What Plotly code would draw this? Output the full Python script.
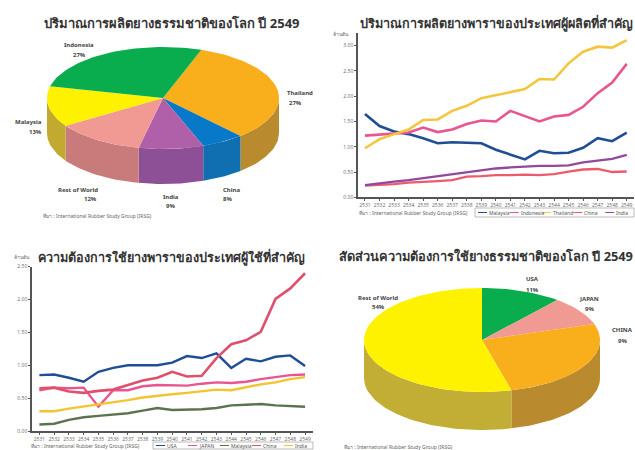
import math
import plotly.graph_objects as go

years = list(range(2531, 2550))
year_labels = [str(y) for y in years]

# Production, million tons
prod_malaysia = [1.65,1.41,1.30,1.25,1.17,1.07,1.09,1.08,1.07,.94,.84,.75,.92,.87,.88,.98,1.17,1.11,1.28]
prod_indonesia = [1.22,1.24,1.25,1.28,1.38,1.29,1.34,1.45,1.52,1.50,1.71,1.60,1.50,1.60,1.63,1.79,2.06,2.27,2.64]
prod_thailand = [.97,1.15,1.25,1.34,1.53,1.54,1.71,1.81,1.96,2.02,2.07,2.14,2.34,2.33,2.65,2.88,2.98,2.96,3.11]
prod_china = [.23,.24,.26,.29,.30,.32,.34,.41,.42,.44,.44,.45,.44,.46,.51,.55,.56,.50,.51]
prod_india = [.24,.28,.31,.34,.38,.42,.46,.49,.54,.57,.59,.61,.62,.62,.63,.69,.73,.76,.84]

# Consumption, million tons
use_usa = [.85,.86,.81,.75,.90,.96,1.00,1.00,1.00,1.04,1.14,1.11,1.18,.96,1.10,1.06,1.13,1.15,.99]
use_japan = [.62,.66,.65,.66,.37,.62,.62,.68,.70,.70,.69,.72,.74,.73,.75,.79,.82,.85,.86]
use_malaysia = [.10,.11,.17,.21,.23,.25,.27,.31,.35,.32,.32,.33,.35,.39,.40,.41,.39,.38,.37]
use_china = [.65,.66,.60,.58,.61,.63,.70,.77,.81,.90,.83,.84,1.11,1.32,1.38,1.51,2.01,2.17,2.40]
use_india = [.30,.30,.34,.37,.40,.43,.47,.51,.54,.56,.58,.61,.63,.62,.67,.71,.74,.79,.82]

# Pie 1 (clockwise, from the top of the ellipse)
p1_names = ["Thailand", "China", "India", "Rest of World", "Malaysia", "Indonesia"]
p1_sizes = [33, 6, 9, 12.5, 12.8, 26.7]
p1_labels = ["27%", "8%", "9%", "12%", "13%", "27%"]
p1_top = ["#f9ae1c", "#0878c8", "#b060a8", "#f19a94", "#fff200", "#0aad4e"]
p1_wall = ["#b98a2e", "#0f6fb0", "#8d4f96", "#c97b7b", "#c2a92f", "#0a8a40"]

# Pie 2
p2_names = ["USA", "JAPAN", "CHINA", "Rest of World"]
p2_sizes = [11, 9, 26, 54]
p2_labels = ["11%", "9%", "9%", "54%"]
p2_top = ["#0aad4e", "#f19a94", "#f9ae1c", "#fff200"]
p2_wall = ["#0a8a40", "#c97b7b", "#b98a2e", "#c2ae35"]

W, H = 635, 450
fig = go.Figure()


def arc(cx, cy, rx, ry, a, b, dy=0.0):
    n = max(2, int(abs(b - a) / 2) + 2)
    xs, ys = [], []
    for i in range(n):
        t = math.radians(a + (b - a) * i / (n - 1))
        xs.append(cx + rx * math.sin(t))
        ys.append(cy - ry * math.cos(t) + dy)
    return xs, ys


def pie(sizes, tops, walls, start, cx, cy, rx, ry, depth):
    total = sum(sizes)
    a = start
    spans = []
    for s in sizes:
        b = a + s / total * 360
        spans.append((a, b))
        a = b
    for (a, b), col in zip(spans, walls):
        for k in (0, 360):
            lo, hi = max(a, 90 + k), min(b, 270 + k)
            if hi > lo:
                x1, y1 = arc(cx, cy, rx, ry, lo, hi)
                x2, y2 = arc(cx, cy, rx, ry, hi, lo, depth)
                fig.add_trace(go.Scatter(x=x1 + x2, y=y1 + y2, fill="toself", fillcolor=col, mode="lines",
                                         line=dict(width=0), showlegend=False, hoverinfo="skip", xaxis="x", yaxis="y"))
    for (a, b), col in zip(spans, tops):
        x1, y1 = arc(cx, cy, rx, ry, a, b)
        fig.add_trace(go.Scatter(x=[cx] + x1 + [cx], y=[cy] + y1 + [cy], fill="toself", fillcolor=col, mode="lines",
                                 line=dict(width=0), showlegend=False, hoverinfo="skip", xaxis="x", yaxis="y"))


pie(p1_sizes, p1_top, p1_wall, 19.3, 163, 98, 116, 51, 35)
pie(p2_sizes, p2_top, p2_wall, 0, 482, 340, 118, 52, 38)

top_series = [
    ("Malaysia", prod_malaysia, "#1f4e96", 2.6),
    ("Indonesia", prod_indonesia, "#e8558f", 2.6),
    ("Thailand", prod_thailand, "#f4c63d", 2.6),
    ("China", prod_china, "#ec5a6e", 2.3),
    ("India", prod_india, "#93479f", 2.3),
]
bot_series = [
    ("USA", use_usa, "#1f4e96", 2.4),
    ("JAPAN", use_japan, "#e8558f", 2.4),
    ("Malaysia", use_malaysia, "#5c7350", 2.4),
    ("China", use_china, "#e0506c", 2.6),
    ("India", use_india, "#f2c530", 2.4),
]
for name, vals, col, w in top_series:
    fig.add_trace(go.Scatter(x=years, y=vals, name=name, mode="lines", line=dict(color=col, width=w),
                             xaxis="x2", yaxis="y2", showlegend=False))
for name, vals, col, w in bot_series:
    fig.add_trace(go.Scatter(x=years, y=vals, name=name, mode="lines", line=dict(color=col, width=w),
                             xaxis="x3", yaxis="y3", showlegend=False))


def T(text, x, y, size, color="#444", bold=False, anchor="center"):
    fig.add_annotation(text=f"<b>{text}</b>" if bold else text, x=x / W, y=1 - y / H, xref="paper", yref="paper",
                       showarrow=False, font=dict(size=size, color=color, family="Noto Sans, DejaVu Sans, sans-serif"),
                       xanchor=anchor, yanchor="middle", borderpad=0)


def legend_box(series, x0, x1, y0, y1):
    fig.add_shape(type="rect", xref="paper", yref="paper", x0=x0 / W, x1=x1 / W, y0=1 - y0 / H, y1=1 - y1 / H,
                  line=dict(color="#aaaaaa", width=0.8))
    step = (x1 - x0) / len(series)
    ym = (y0 + y1) / 2
    for i, (name, _, col, _w) in enumerate(series):
        xs = x0 + i * step + 3
        fig.add_shape(type="line", xref="paper", yref="paper", x0=xs / W, x1=(xs + 9) / W, y0=1 - ym / H, y1=1 - ym / H,
                      line=dict(color=col, width=1))
        T(name, xs + 10, ym, 5, "#555", False, "left")


TITLE = "#333333"
T("ปริมาณการผลิตยางธรรมชาติของโลก ปี 2549", 172, 23, 13, TITLE, True)
T("ปริมาณการผลิตยางพาราของประเทศผู้ผลิตที่สำคัญ", 496, 23, 12.6, TITLE, True)
T("ความต้องการใช้ยางพาราของประเทศผู้ใช้ที่สำคัญ", 171, 257, 12.6, TITLE, True)
T("สัดส่วนความต้องการใช้ยางธรรมชาติของโลก ปี 2549", 486, 256, 12.8, TITLE, True)

SRC = "ที่มา : International Rubber Study Group (IRSG)"
T(SRC, 42, 216, 5, "#666", False, "left")
T(SRC, 358, 213, 5, "#666", False, "left")
T(SRC, 30, 446, 5, "#666", False, "left")
T(SRC, 343, 447, 5, "#666", False, "left")
T("ล้านตัน", 341, 34, 5, "#666")
T("ล้านตัน", 22, 257, 5, "#666")

p1_pos = [(300, 93, 295, 103), (231, 190, 227, 199), (171, 197, 170, 206),
          (78, 190, 90, 199), (28, 122, 35, 132), (79, 45, 79, 55)]
for n, l, (a, b, c, d) in zip(p1_names, p1_labels, p1_pos):
    T(n, a, b, 6, "#444", True)
    T(l, c, d, 6, "#444", True)
p2_pos = [(532, 279, 532, 290), (589, 299, 589, 309), (622, 330, 622, 341), (378, 298, 378, 307)]
for n, l, (a, b, c, d) in zip(p2_names, p2_labels, p2_pos):
    T(n, a, b, 6, "#444", True)
    T(l, c, d, 6, "#444", True)

legend_box(top_series, 475, 634, 208, 217)
legend_box(bot_series, 153, 313, 442, 449)

hidden = dict(visible=False, showgrid=False, zeroline=False)
tick = dict(size=5, color="#666")


def xax(l, r, rng, anchor):
    return dict(domain=[l / W, r / W], range=rng, anchor=anchor, tickvals=years, ticktext=year_labels, tickangle=0,
                tickfont=tick, ticks="outside", ticklen=2, tickcolor="#555", showline=True, linecolor="#555",
                linewidth=1.5, showgrid=False, zeroline=False, automargin=False)


def yax(bottom, top, rng, step, anchor):
    vals = [i * step for i in range(int(rng[1] / step + 1e-9) + 1)]
    return dict(domain=[1 - bottom / H, 1 - top / H], range=rng, anchor=anchor, tickvals=vals,
                ticktext=[f"{v:.2f}" for v in vals],
                tickfont=tick, ticks="outside", ticklen=2, tickcolor="#555", showline=True, linecolor="#555",
                linewidth=1.5, showgrid=False, zeroline=False, automargin=False)


fig.update_layout(
    width=W, height=H, autosize=False,
    margin=dict(l=0, r=0, t=0, b=0),
    paper_bgcolor="white", plot_bgcolor="rgba(0,0,0,0)",
    showlegend=False,
    xaxis=dict(domain=[0, 1], range=[0, W], anchor="y", **hidden),
    yaxis=dict(domain=[0, 1], range=[H, 0], anchor="x", **hidden),
    xaxis2=xax(358, 634, [2530.52, 2549.5], "y2"),
    yaxis2=yax(197.3, 33, [0, 3.25], 0.5, "x2"),
    xaxis3=xax(32, 313, [2530.5, 2549.54], "y3"),
    yaxis3=yax(431, 266.7, [0, 2.5], 0.5, "x3"),
)

fig.write_html("out.html", config={"displayModeBar": False},
               post_script="document.body.style.margin='0';document.documentElement.style.overflow='hidden';")
